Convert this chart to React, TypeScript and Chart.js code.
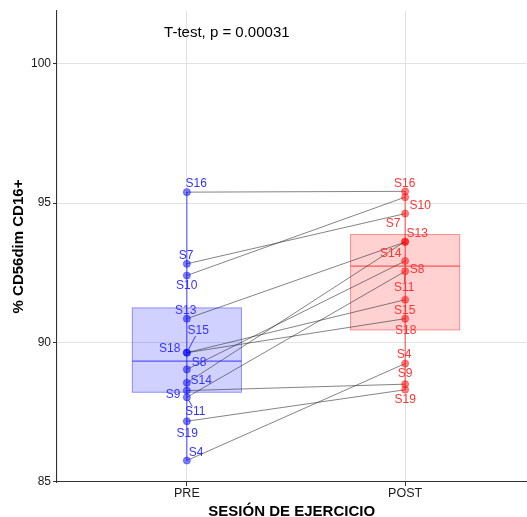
import React, { useEffect, useRef } from "react";
import { Chart, registerables } from "chart.js";

Chart.register(...registerables);

// ---------- data ----------
const sessions = ["PRE", "POST"];
const subjects = ["S16", "S7", "S10", "S13", "S15", "S18", "S8", "S14", "S9", "S11", "S19", "S4"];
const preValues = [95.39, 92.82, 92.4, 90.85, 89.63, 89.63, 89.03, 88.55, 88.27, 88.03, 87.17, 85.76];
const postValues = [95.42, 94.62, 95.21, 93.6, 91.53, 90.85, 92.92, 93.62, 88.5, 92.55, 88.3, 89.24];
const yTicks = [85, 90, 95, 100];
const testLabel = "T-test, p = 0.00031";
const yTitle = "% CD56dim CD16+";
const xTitle = "SESIÓN DE EJERCICIO";

// ---------- label placement (pixel nudges, like ggrepel) ----------
// [dx, dy, drawSegment]
const preNudge: [number, number, boolean][] = [
  [9.3, -8, false], [-0.7, -8, false], [-0.2, 10, false], [-1.2, -8, false],
  [11.3, -21.6, true], [-17.2, -4, false], [12.3, -7, false], [14.3, -2, false],
  [-13.7, 4, false], [8.3, 14, true], [0.3, 12, false], [9.3, -8, false],
];
const postNudge: [number, number, boolean][] = [
  [-0.5, -8, false], [-12, 10, false], [15, 9, false], [12, -8, false],
  [-0.5, 10.7, false], [0.5, 12, false], [12, 8.6, false], [-14.5, 12, false],
  [0, -10.7, false], [-1, 16, true], [0, 10, false], [-1, -9, false],
];

const FONT = "'Liberation Sans', Arial, Helvetica, sans-serif";
const blue = (a: number) => `rgba(0,0,255,${a})`;
const red = (a: number) => `rgba(255,0,0,${a})`;
const groupColor = [blue, red];
const labelColor = ["#3434ff", "#ff3434"];

function quantile(sorted: number[], p: number) {
  const h = (sorted.length - 1) * p;
  const lo = Math.floor(h);
  const hi = Math.ceil(h);
  return sorted[lo] + (h - lo) * (sorted[hi] - sorted[lo]);
}
function boxStats(vals: number[]) {
  const s = [...vals].sort((a, b) => a - b);
  const q1 = quantile(s, 0.25);
  const med = quantile(s, 0.5);
  const q3 = quantile(s, 0.75);
  const iqr = q3 - q1;
  const lo = Math.min(...s.filter((v) => v >= q1 - 1.5 * iqr));
  const hi = Math.max(...s.filter((v) => v <= q3 + 1.5 * iqr));
  return { q1, med, q3, lo, hi };
}

const pairedPlugin = {
  id: "pairedPlugin",
  beforeDatasetsDraw(chart: any) {
    const { ctx, scales } = chart;
    const xs = scales.x;
    const ys = scales.y;
    [preValues, postValues].forEach((vals, gi) => {
      const st = boxStats(vals);
      const col = groupColor[gi];
      const cx = xs.getPixelForValue(gi + 1);
      const left = xs.getPixelForValue(gi + 1 - 0.25);
      const right = xs.getPixelForValue(gi + 1 + 0.25);
      ctx.save();
      // whisker
      ctx.strokeStyle = col(0.7);
      ctx.lineWidth = 1;
      ctx.beginPath();
      ctx.moveTo(cx, ys.getPixelForValue(st.hi));
      ctx.lineTo(cx, ys.getPixelForValue(st.lo));
      ctx.stroke();
      // box
      const top = ys.getPixelForValue(st.q3);
      const bot = ys.getPixelForValue(st.q1);
      ctx.fillStyle = col(0.18);
      ctx.fillRect(left, top, right - left, bot - top);
      ctx.strokeStyle = col(0.4);
      ctx.strokeRect(left, top, right - left, bot - top);
      // median
      const my = ys.getPixelForValue(st.med);
      ctx.strokeStyle = col(0.6);
      ctx.lineWidth = 1.2;
      ctx.beginPath();
      ctx.moveTo(left, my);
      ctx.lineTo(right, my);
      ctx.stroke();
      ctx.restore();
    });
  },
  afterDatasetsDraw(chart: any) {
    const { ctx, scales } = chart;
    const xs = scales.x;
    const ys = scales.y;
    ctx.save();
    ctx.font = `12px ${FONT}`;
    ctx.textAlign = "center";
    ctx.textBaseline = "middle";
    [preValues, postValues].forEach((vals, gi) => {
      const nudges = gi === 0 ? preNudge : postNudge;
      vals.forEach((v, i) => {
        const px = xs.getPixelForValue(gi + 1);
        const py = ys.getPixelForValue(v);
        const [dx, dy, seg] = nudges[i];
        const lx = px + dx;
        const ly = py + dy;
        ctx.fillStyle = labelColor[gi];
        ctx.fillText(subjects[i], lx, ly);
        if (seg) {
          const w = ctx.measureText(subjects[i]).width / 2 + 1;
          const h = 5;
          const vx = px - lx;
          const vy = py - ly;
          const t = Math.min(Math.abs(vx) > 0 ? w / Math.abs(vx) : 1e9, Math.abs(vy) > 0 ? h / Math.abs(vy) : 1e9);
          const ex = lx + vx * t;
          const ey = ly + vy * t;
          const len = Math.hypot(vx, vy);
          const sx = px - (vx / len) * 3;
          const sy = py - (vy / len) * 3;
          ctx.strokeStyle = labelColor[gi];
          ctx.lineWidth = 1;
          ctx.beginPath();
          ctx.moveTo(sx, sy);
          ctx.lineTo(ex, ey);
          ctx.stroke();
        }
      });
    });
    // test annotation
    ctx.fillStyle = "#000";
    ctx.font = `15px ${FONT}`;
    ctx.fillText(testLabel, xs.getPixelForValue(1.183), ys.getPixelForValue(101.09));
    ctx.restore();
  },
};

export default function App() {
  const ref = useRef<HTMLCanvasElement>(null);
  useEffect(() => {
    Chart.defaults.font.family = FONT;
    const pairDatasets = subjects.map((s, i) => ({
      type: "line" as const,
      label: s,
      data: [
        { x: 1, y: preValues[i] },
        { x: 2, y: postValues[i] },
      ],
      borderColor: "rgba(40,40,40,0.72)",
      borderWidth: 0.8,
      pointRadius: 0,
      fill: false,
      order: 5,
    }));
    const pointDatasets = [preValues, postValues].map((vals, gi) => ({
      type: "scatter" as const,
      label: sessions[gi],
      data: vals.map((v) => ({ x: gi + 1, y: v })),
      backgroundColor: groupColor[gi](0.5),
      borderColor: groupColor[gi](0.55),
      borderWidth: 0.6,
      pointRadius: 3.6,
      order: 0,
    }));
    const chart = new Chart(ref.current as HTMLCanvasElement, {
      type: "scatter",
      data: { datasets: [...pointDatasets, ...pairDatasets] as any },
      options: {
        responsive: false,
        animation: false,
        devicePixelRatio: 1,
        layout: { padding: { top: 11, left: 0, right: 0, bottom: 0 } },
        plugins: { legend: { display: false }, tooltip: { enabled: false } },
        scales: {
          x: {
            type: "linear",
            min: 0.405,
            max: 2.5556,
            afterBuildTicks: (s: any) => {
              s.ticks = sessions.map((_, i) => ({ value: i + 1 }));
            },
            afterFit: (s: any) => {
              s.height = 35;
            },
            ticks: {
              callback: (v: any) => sessions[Number(v) - 1] ?? "",
              font: { family: FONT, size: 12.5 },
              color: "#1a1a1a",
              padding: 0,
              maxRotation: 0,
              autoSkip: false,
            },
            grid: { color: "#e2e2e2", lineWidth: 1, tickColor: "#333", tickLength: 4 },
            border: { display: true, color: "#333", width: 1.1 },
            title: {
              display: true,
              text: xTitle,
              color: "#000",
              font: { family: FONT, size: 15, weight: "bold", lineHeight: 1.2 },
              padding: { top: 0, bottom: -4 },
            },
          },
          y: {
            type: "linear",
            min: 84.99,
            max: 101.89,
            afterBuildTicks: (s: any) => {
              s.ticks = yTicks.map((v) => ({ value: v }));
            },
            afterFit: (s: any) => {
              s.width = 57;
            },
            ticks: {
              font: { family: FONT, size: 12 },
              color: "#1a1a1a",
              padding: 2,
            },
            grid: { color: "#e2e2e2", lineWidth: 1, tickColor: "#333", tickLength: 4 },
            border: { display: true, color: "#333", width: 1.1 },
            title: {
              display: true,
              text: yTitle,
              color: "#000",
              font: { family: FONT, size: 15, weight: "bold", lineHeight: 1.2 },
              padding: { top: 10, bottom: 0 },
            },
          },
        },
      } as any,
      plugins: [pairedPlugin],
    });
    return () => chart.destroy();
  }, []);
  return (
    <div
      style={{
        position: "absolute",
        left: 0,
        top: 0,
        width: 527,
        height: 517,
        overflow: "hidden",
        background: "#fff",
      }}
    >
      <canvas ref={ref} width={531} height={517} style={{ width: 531, height: 517, display: "block" }} />
    </div>
  );
}
